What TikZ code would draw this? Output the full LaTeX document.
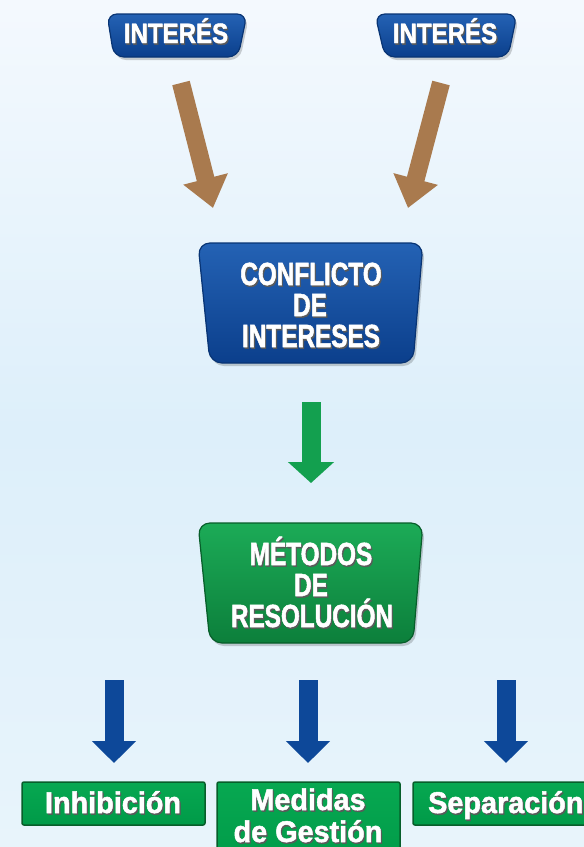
\documentclass[tikz,border=0pt]{standalone}
\usepackage{fontspec}
\newfontfamily\fontA[FakeStretch=0.76,FakeBold=1.6]{Liberation Sans}
\newfontfamily\fontB[FakeStretch=0.86,FakeBold=1.6]{Liberation Sans}
\newfontfamily\fontC[FakeStretch=0.96,FakeBold=1.6]{Liberation Sans}
\usetikzlibrary{arrows.meta}
\definecolor{bgtop}{HTML}{F4F9FE}
\definecolor{bgmid}{HTML}{DDEFFA}
\definecolor{bgbot}{HTML}{E8F4FB}
\definecolor{blueA}{HTML}{2462B4}
\definecolor{blueB}{HTML}{0B3F8C}
\definecolor{blueEdge}{HTML}{083474}
\definecolor{greenA}{HTML}{1CAB57}
\definecolor{greenB}{HTML}{0C7F3B}
\definecolor{greenEdge}{HTML}{075E2A}
\definecolor{gboxA}{HTML}{07A851}
\definecolor{gboxB}{HTML}{009A48}
\definecolor{brownArr}{HTML}{A97A4E}
\definecolor{blueArr}{HTML}{0D4899}
\definecolor{greenArr}{HTML}{13A04F}
\definecolor{txtshadow}{HTML}{5A5A5A}
\newcommand\bxtxt[4]{%
  \node[anchor=base,text=txtshadow,font=#3,inner sep=0pt] at ([xshift=1.2pt,yshift=-1.6pt]#2) {#4};
  \node[anchor=base,text=white,font=#3,inner sep=0pt] (#1) at (#2) {#4};}
\tikzset{
  bluebox/.style={top color=blueA,bottom color=blueB,draw=blueEdge,line width=1.2pt,rounded corners=12pt},
  greenbox/.style={top color=greenA,bottom color=greenB,draw=greenEdge,line width=1.2pt,rounded corners=12pt},
  boxshadow/.style={fill=black,opacity=0.18,rounded corners=12pt},
  gbox/.style={top color=gboxA,bottom color=gboxB,draw=greenEdge,line width=1.5pt,rounded corners=2pt},
  brownarrow/.style={draw=brownArr,line width=18pt,-{Triangle[length=30pt,width=44pt]}},
  greenarrow/.style={draw=greenArr,line width=19pt,-{Triangle[length=21pt,width=45pt]}},
  bluearrow/.style={draw=blueArr,line width=19pt,-{Triangle[length=22pt,width=43pt]}},
}
\newcommand\fBig{\fontA\bfseries\fontsize{32}{32}\selectfont}
\newcommand\fTop{\fontB\bfseries\fontsize{28}{28}\selectfont}
\newcommand\fLow{\fontC\bfseries\fontsize{30}{30}\selectfont}
\begin{document}
\begin{tikzpicture}[x=1pt,y=-1pt]
\useasboundingbox (0,0) rectangle (584,847);
\clip (0,0) rectangle (584,847);
\fill[top color=bgtop,bottom color=bgmid] (0,0) rectangle (584,430);
\fill[top color=bgmid,bottom color=bgbot] (0,429) rectangle (584,847);

% top boxes
\fill[boxshadow,rounded corners=10pt] (109,17) -- (249,17) -- (240,60) -- (116,60) -- cycle;
\path[bluebox,rounded corners=10pt] (107,14) -- (247,14) -- (238,57) -- (114,57) -- cycle;
\fill[boxshadow,rounded corners=10pt] (377,17) -- (519,17) -- (510,60) -- (387,60) -- cycle;
\path[bluebox,rounded corners=10pt] (375,14) -- (517,14) -- (508,57) -- (385,57) -- cycle;
\bxtxt{int1}{176,43}{\fTop}{INTERÉS}
\bxtxt{int2}{445,43}{\fTop}{INTERÉS}

% brown arrows
\coordinate (b1s) at (181,83);
\coordinate (b1e) at (213,208);
\coordinate (b2s) at (441,83);
\coordinate (b2e) at (408,208);
\draw[brownarrow] (b1s) -- (b1e);
\draw[brownarrow] (b2s) -- (b2e);

% conflicto box
\fill[boxshadow] (200,246) -- (425,246) -- (415,366) -- (212,366) -- cycle;
\path[bluebox] (198,243) -- (423,243) -- (413,363) -- (210,363) -- cycle;
\bxtxt{c1}{311,285}{\fBig}{CONFLICTO}
\bxtxt{c2}{310,316}{\fBig}{DE}
\bxtxt{c3}{311,347}{\fBig}{INTERESES}

% green arrow
\coordinate (g1s) at (311,402);
\coordinate (g1e) at (311,483);
\draw[greenarrow] (g1s) -- (g1e);

% metodos box
\fill[boxshadow] (200,526) -- (425,526) -- (415,646) -- (212,646) -- cycle;
\path[greenbox] (198,523) -- (423,523) -- (413,643) -- (210,643) -- cycle;
\bxtxt{m1}{311,565}{\fBig}{MÉTODOS}
\bxtxt{m2}{311,596}{\fBig}{DE}
\bxtxt{m3}{312,627}{\fBig}{RESOLUCIÓN}

% blue arrows
\coordinate (a1s) at (114,680);
\coordinate (a1e) at (114,763);
\coordinate (a2s) at (308,680);
\coordinate (a2e) at (308,763);
\coordinate (a3s) at (506,680);
\coordinate (a3e) at (506,763);
\draw[bluearrow] (a1s) -- (a1e);
\draw[bluearrow] (a2s) -- (a2e);
\draw[bluearrow] (a3s) -- (a3e);

% bottom boxes
\path[gbox] (22,782) rectangle (205,825);
\path[gbox] (217,782) rectangle (400,870);
\path[gbox] (413,782) rectangle (610,825);
\bxtxt{r1}{113,813}{\fLow}{Inhibición}
\bxtxt{r2}{308,810}{\fLow}{Medidas}
\bxtxt{r3}{308,842}{\fLow}{de Gestión}
\node[anchor=base west,text=txtshadow,font=\fLow,inner sep=0pt] at (429.2,814.6) {Separación};
\node[anchor=base west,text=white,font=\fLow,inner sep=0pt] (r4) at (428,813) {Separación};
\end{tikzpicture}
\end{document}
